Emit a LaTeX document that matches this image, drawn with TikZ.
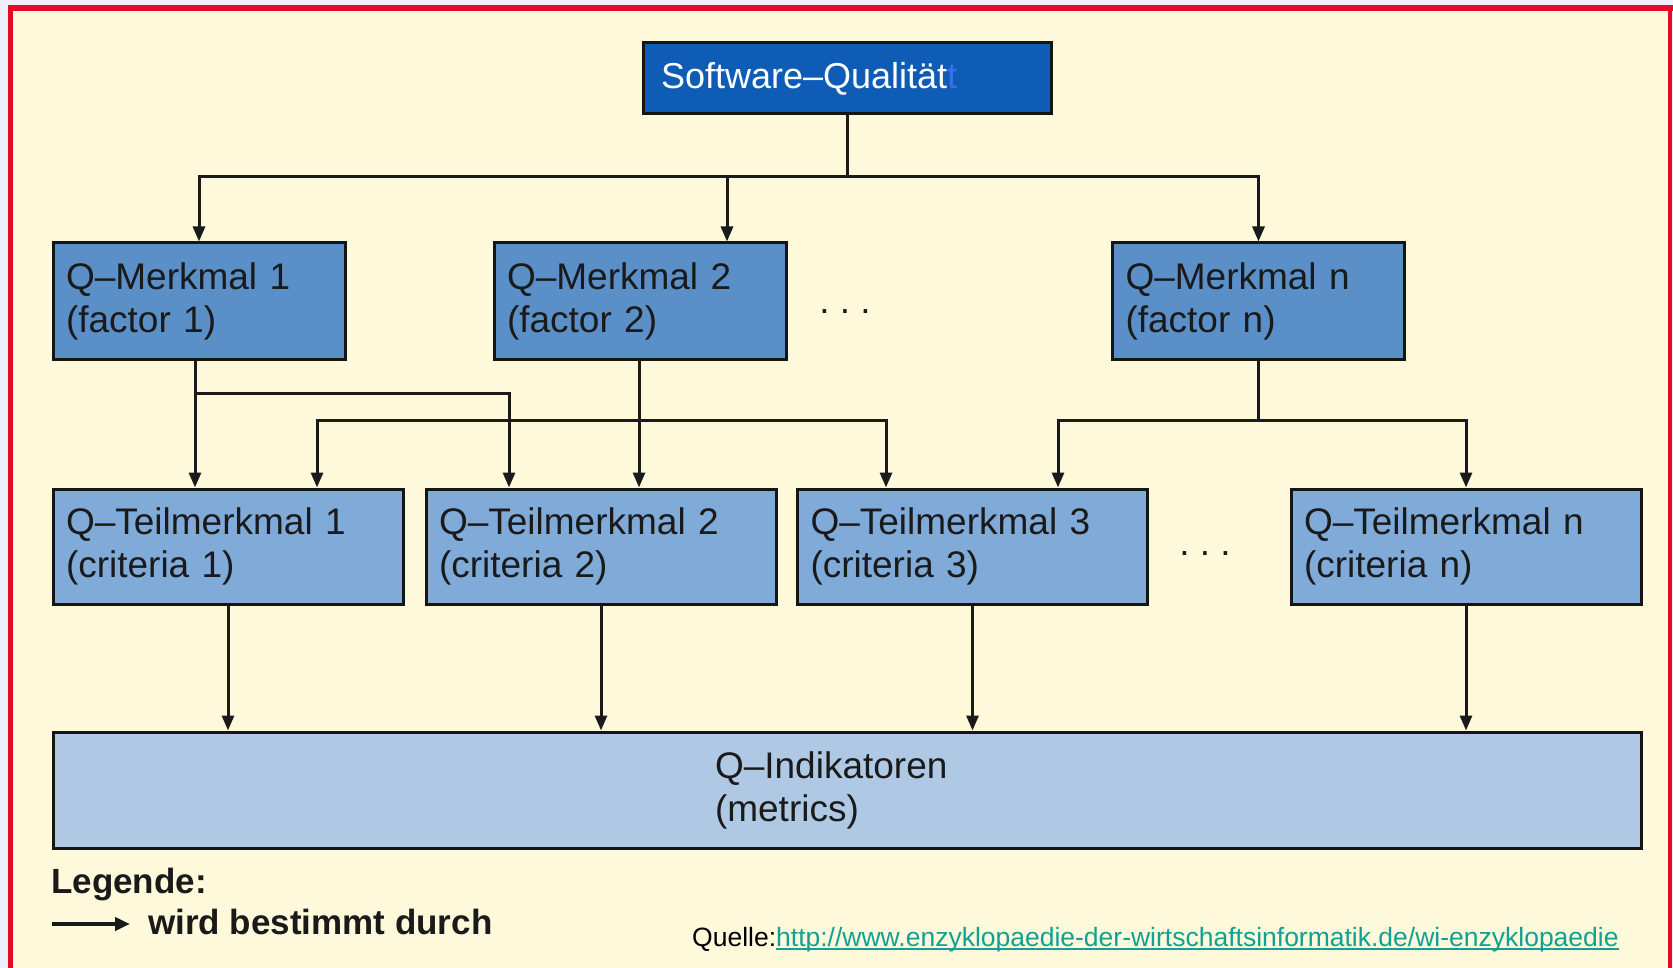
\documentclass[tikz,border=0pt]{standalone}
\usepackage{fontspec}
\setmainfont{Liberation Sans}
\newsavebox{\ulbox}
\newcommand{\myuline}[1]{\sbox{\ulbox}{#1}\rlap{\rule[-4pt]{\wd\ulbox}{2pt}}\usebox{\ulbox}}
\usetikzlibrary{arrows.meta}
\definecolor{lav}{HTML}{EEEFF9}
\definecolor{cream}{HTML}{FDF9DA}
\definecolor{redf}{HTML}{E30B25}
\definecolor{topc}{HTML}{0F5CB7}
\definecolor{mc}{HTML}{5A8FC7}
\definecolor{tc}{HTML}{80AAD7}
\definecolor{ic}{HTML}{AFC9E5}
\definecolor{boxline}{HTML}{151515}
\definecolor{ghost}{HTML}{3C6EF2}
\definecolor{linkc}{HTML}{11A095}
\definecolor{txt}{HTML}{1A1A1A}
\begin{document}
\begin{tikzpicture}[x=1pt,y=-1pt,
  box/.style={draw=boxline, line width=3pt, rectangle, inner xsep=13pt, inner ysep=0pt,
    align=left, font=\fontsize{37pt}{43pt}\selectfont, text=txt},
  conn/.style={line width=3pt, draw=txt},
  arr/.style={conn, -{Triangle[length=15pt,width=12pt]}},
  bigtxt/.style={font=\fontsize{37pt}{43pt}\selectfont, text=txt, inner sep=0pt},
  legtxt/.style={font=\bfseries\fontsize{35pt}{40pt}\selectfont, text=txt, inner sep=0pt, anchor=base west}]
\useasboundingbox (0,0) rectangle (1673,968);
\fill[lav] (0,0) rectangle (1673,968);
\fill[cream] (13,11) rectangle (1668,968);
\fill[redf] (8,5) rectangle (1673,11);
\fill[redf] (8,5) rectangle (13,968);
\fill[redf] (1668,5) rectangle (1672,968);

% nodes
\node[box, fill=topc, text=white, minimum height=71pt, text width=372pt, inner xsep=18pt,
  font=\fontsize{36pt}{42pt}\selectfont] (top) at (847,78.5) {Software–Qualität{\color{ghost}t}};

\node[box, fill=mc, minimum height=116pt, text width=266pt] (m1) at (199,301) {Q–Merkmal 1\\(factor 1)};
\node[box, fill=mc, minimum height=116pt, text width=266pt] (m2) at (640,301) {Q–Merkmal 2\\(factor 2)};
\node[box, fill=mc, minimum height=116pt, text width=266pt] (mn) at (1258.5,301) {Q–Merkmal n\\(factor n)};

\node[box, fill=tc, minimum height=115pt, text width=324pt] (t1) at (228,546.5) {Q–Teilmerkmal 1\\(criteria 1)};
\node[box, fill=tc, minimum height=115pt, text width=324pt] (t2) at (601,546.5) {Q–Teilmerkmal 2\\(criteria 2)};
\node[box, fill=tc, minimum height=115pt, text width=324pt] (t3) at (972.5,546.5) {Q–Teilmerkmal 3\\(criteria 3)};
\node[box, fill=tc, minimum height=115pt, text width=324pt] (tn) at (1466,546.5) {Q–Teilmerkmal n\\(criteria n)};

\node[box, fill=ic, minimum height=116pt, text width=264pt, inner xsep=662pt] (ind) at (847,790) {Q–Indikatoren\\(metrics)};

\node[bigtxt, anchor=base] (d1) at (845,313) {.\ .\ .};
\node[bigtxt, anchor=base] (d2) at (1205,555) {.\ .\ .};

% connectors top level
\coordinate (j0) at (847,177);
\draw[conn] (top.south) -- (j0);
\draw[arr] (j0) -| (m1.north);
\draw[arr] (j0) -| ([xshift=87pt]m2.north);
\draw[arr] (j0) -| (mn.north);

% Merkmal 1
\coordinate (m1b) at (195,393);
\draw[arr] ([xshift=-4pt]m1.south) -- ([xshift=-4pt]m1.south |- t1.north);
\draw[arr] (m1b) -| ([xshift=-92pt]t2.north);

% Merkmal 2
\coordinate (m2b) at (639,420);
\draw[arr] ([xshift=-1pt]m2.south) -- ([xshift=-1pt]m2.south |- t2.north);
\draw[arr] (m2b) -| ([xshift=89pt]t1.north);
\draw[arr] (m2b) -| ([xshift=-86.5pt]t3.north);

% Merkmal n
\coordinate (mnb) at (1258.5,420);
\draw[conn] (mn.south) -- (mnb);
\draw[arr] (mnb) -| ([xshift=85.5pt]t3.north);
\draw[arr] (mnb) -| (tn.north);

% Teilmerkmale to Indikatoren
\draw[arr] (t1.south) -- (t1.south |- ind.north);
\draw[arr] (t2.south) -- (t2.south |- ind.north);
\draw[arr] (t3.south) -- (t3.south |- ind.north);
\draw[arr] (tn.south) -- (tn.south |- ind.north);

% legend
\node[legtxt] (leg) at (51,893) {Legende:};
\coordinate (la) at (52,924);
\coordinate (lb) at (130,924);
\draw[arr, line width=4pt, -{Triangle[length=15pt,width=13pt]}] (la) -- (lb);
\node[legtxt] (wbd) at (148,934) {wird bestimmt durch};

\node[anchor=base west, inner sep=0pt, text=black, font=\fontsize{26.5pt}{30pt}\selectfont] (q) at (692,946)
  {Quelle:{\color{linkc}\myuline{http://www.enzyklopaedie-der-wirtschaftsinformatik.de/wi-enzyklopaedie}}};
\end{tikzpicture}
\end{document}
